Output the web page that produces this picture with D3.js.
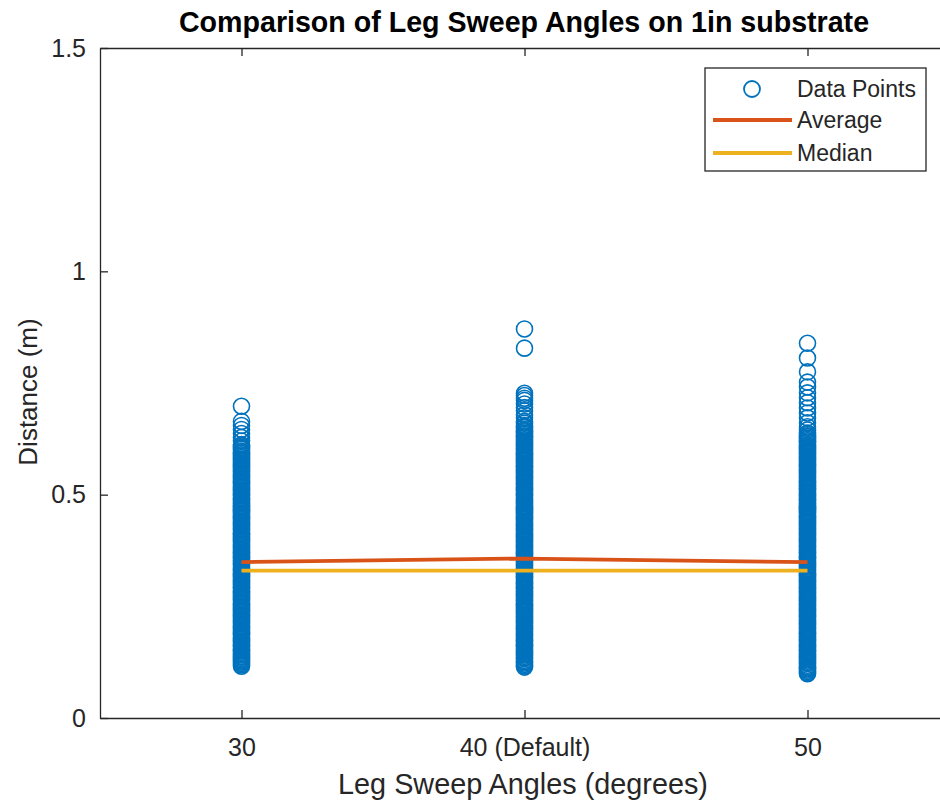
<!DOCTYPE html>
<html>
<head>
<meta charset="utf-8">
<script src="https://cdn.jsdelivr.net/npm/d3@7"></script>
<style>
  body { margin: 0; background: #fff; }
  text { font-family: "Liberation Sans", Arial, sans-serif; fill: #262626; }
</style>
</head>
<body>
<svg id="chart" width="940" height="801"></svg>
<script>
// --- Daten ---
const angles = [30, 40, 50];
const tickLabels = ['30', '40 (Default)', '50'];
const yTicks = [0, 0.5, 1, 1.5];

// Distanzen (m) je Winkel
const sweep30 = [0.698,0.664,0.655,0.646,0.637,0.628,0.620,
  0.612,0.609,0.606,0.604,0.601,0.597,0.594,0.592,0.589,0.586,0.583,0.580,0.578,0.575,0.571,0.568,0.566,0.563,0.560,0.557,0.554,0.552,0.549,0.545,0.542,0.540,0.537,0.534,0.531,0.528,0.526,0.523,0.519,0.516,0.514,0.511,0.508,0.505,0.502,0.500,0.497,0.493,0.490,0.488,0.485,0.482,0.479,0.476,0.474,0.471,0.467,0.464,0.462,0.459,0.456,0.453,0.450,0.448,0.445,0.441,0.438,0.436,0.433,0.430,0.427,0.424,0.422,0.419,0.415,0.412,0.410,0.407,0.404,0.401,0.398,0.396,0.393,0.389,0.386,0.384,0.381,0.378,0.375,0.372,0.370,0.367,0.363,0.360,0.358,0.355,0.352,0.349,0.346,0.344,0.341,0.337,0.334,0.332,0.329,0.326,0.323,0.320,0.318,0.315,0.311,0.308,0.306,0.303,0.300,0.297,0.294,0.292,0.289,0.285,0.282,0.280,0.277,0.274,0.271,0.268,0.266,0.263,0.259,0.256,0.254,0.251,0.248,0.245,0.242,0.240,0.237,0.233,0.230,0.228,0.225,0.222,0.219,0.216,0.214,0.211,0.207,0.204,0.202,0.199,0.196,0.193,0.190,0.188,0.185,0.181,0.178,0.176,0.173,0.170,0.167,0.164,0.162,0.159,0.155,0.152,0.150,0.147,0.144,0.141,0.138,0.136,0.133,0.130,0.128,0.125,0.122,0.119,0.116];

const sweep40 = [0.871,0.828,0.727,0.722,0.716,0.711,0.703,0.695,0.688,0.679,0.672,0.664,0.660,
  0.655,0.652,0.650,0.646,0.643,0.641,0.638,0.635,0.632,0.629,0.627,0.623,0.620,0.617,0.615,0.612,0.609,0.606,0.603,0.601,0.597,0.594,0.591,0.589,0.586,0.583,0.580,0.577,0.575,0.571,0.568,0.565,0.563,0.560,0.557,0.554,0.551,0.549,0.545,0.542,0.539,0.537,0.534,0.531,0.528,0.525,0.523,0.519,0.516,0.513,0.511,0.508,0.505,0.502,0.499,0.497,0.493,0.490,0.487,0.485,0.482,0.479,0.476,0.473,0.471,0.467,0.464,0.461,0.459,0.456,0.453,0.450,0.447,0.445,0.441,0.438,0.435,0.433,0.430,0.427,0.424,0.421,0.419,0.415,0.412,0.409,0.407,0.404,0.401,0.398,0.395,0.393,0.389,0.386,0.383,0.381,0.378,0.375,0.372,0.369,0.367,0.363,0.360,0.357,0.355,0.352,0.349,0.346,0.343,0.341,0.337,0.334,0.331,0.329,0.326,0.323,0.320,0.317,0.315,0.311,0.308,0.305,0.303,0.300,0.297,0.294,0.291,0.289,0.285,0.282,0.279,0.277,0.274,0.271,0.268,0.265,0.263,0.259,0.256,0.253,0.251,0.248,0.245,0.242,0.239,0.237,0.233,0.230,0.227,0.225,0.222,0.219,0.216,0.213,0.211,0.207,0.204,0.201,0.199,0.196,0.193,0.190,0.187,0.185,0.181,0.178,0.175,0.173,0.170,0.167,0.164,0.161,0.159,0.155,0.152,0.149,0.147,0.144,0.141,0.138,0.135,0.133,0.129,0.126,0.123,0.120,0.117,0.114];

const sweep50 = [0.839,0.806,0.775,0.752,0.741,0.728,0.717,0.706,0.694,0.683,0.672,0.661,0.652,0.645,
  0.638,0.635,0.632,0.630,0.627,0.624,0.621,0.618,0.616,0.612,0.609,0.606,0.604,0.601,0.598,0.595,0.592,0.590,0.586,0.583,0.580,0.578,0.575,0.572,0.569,0.566,0.564,0.560,0.557,0.554,0.552,0.549,0.546,0.543,0.540,0.538,0.534,0.531,0.528,0.526,0.523,0.520,0.517,0.514,0.512,0.508,0.505,0.502,0.500,0.497,0.494,0.491,0.488,0.486,0.482,0.479,0.476,0.474,0.471,0.468,0.465,0.462,0.460,0.456,0.453,0.450,0.448,0.445,0.442,0.439,0.436,0.434,0.430,0.427,0.424,0.422,0.419,0.416,0.413,0.410,0.408,0.404,0.401,0.398,0.396,0.393,0.390,0.387,0.384,0.382,0.378,0.375,0.372,0.370,0.367,0.364,0.361,0.358,0.356,0.352,0.349,0.346,0.344,0.341,0.338,0.335,0.332,0.330,0.326,0.323,0.320,0.318,0.315,0.312,0.309,0.306,0.304,0.300,0.297,0.294,0.292,0.289,0.286,0.283,0.280,0.278,0.274,0.271,0.268,0.266,0.263,0.260,0.257,0.254,0.252,0.248,0.245,0.242,0.240,0.237,0.234,0.231,0.228,0.226,0.222,0.219,0.216,0.214,0.211,0.208,0.205,0.202,0.200,0.196,0.193,0.190,0.188,0.185,0.182,0.179,0.176,0.174,0.170,0.167,0.164,0.162,0.159,0.156,0.153,0.150,0.148,0.144,0.141,0.138,0.136,0.133,0.130,0.127,0.124,0.122,0.118,0.115,0.112,0.110,0.107,0.104,0.101,0.099];

const averages = [0.349, 0.357, 0.349];
const medians = [0.330, 0.330, 0.330];

// --- Farben (MATLAB Standard) ---
const BLUE = '#0072BD';
const ORANGE = '#D95319';
const YELLOW = '#EDB120';
const AXIS = '#262626';

const svg = d3.select('#chart');

const x = d3.scaleLinear().domain([25, 55]).range([100, 949]);
const y = d3.scaleLinear().domain([0, 1.5]).range([718, 48]);

// Datenpunkte
const groups = [sweep30, sweep40, sweep50];
const points = [];
groups.forEach((vals, i) => vals.forEach(v => points.push({ a: angles[i], v: v })));

svg.append('g')
  .selectAll('circle')
  .data(points)
  .join('circle')
  .attr('cx', d => x(d.a))
  .attr('cy', d => y(d.v))
  .attr('r', 8)
  .attr('fill', 'none')
  .attr('stroke', BLUE)
  .attr('stroke-width', 1.6);

// Mittelwert- und Median-Linien
const line = d3.line().x((d, i) => x(angles[i])).y(d => y(d));
svg.append('path').datum(averages)
  .attr('d', line).attr('fill', 'none')
  .attr('stroke', ORANGE).attr('stroke-width', 3.8);
svg.append('path').datum(medians)
  .attr('d', line).attr('fill', 'none')
  .attr('stroke', YELLOW).attr('stroke-width', 3.8);

// --- Achsen ---
const xAxis = svg.append('g')
  .attr('transform', `translate(0,${y(0)})`)
  .call(d3.axisBottom(x).tickValues(angles)
    .tickFormat((d, i) => tickLabels[i])
    .tickSizeInner(-8).tickSizeOuter(0).tickPadding(20));

const topAxis = svg.append('g')
  .attr('transform', `translate(0,${y(1.5)})`)
  .call(d3.axisTop(x).tickValues(angles).tickFormat('')
    .tickSizeInner(-8).tickSizeOuter(0));

const yAxis = svg.append('g')
  .attr('transform', `translate(${x(25)},0)`)
  .call(d3.axisLeft(y).tickValues(yTicks).tickFormat(d3.format('~g'))
    .tickSizeInner(-8).tickSizeOuter(0).tickPadding(14));

[xAxis, topAxis, yAxis].forEach(g => {
  g.select('.domain').attr('stroke', AXIS).attr('stroke-width', 1.3);
  g.selectAll('.tick line').attr('stroke', AXIS).attr('stroke-width', 1.3);
  g.selectAll('.tick text')
    .attr('font-family', '"Liberation Sans", Arial, sans-serif')
    .attr('font-size', 25)
    .attr('fill', AXIS);
});

// --- Beschriftungen ---
svg.append('text')
  .attr('x', 524).attr('y', 32)
  .attr('text-anchor', 'middle')
  .attr('font-size', 28.6).attr('font-weight', 'bold')
  .style('fill', '#000')
  .text('Comparison of Leg Sweep Angles on 1in substrate');

svg.append('text')
  .attr('x', 523).attr('y', 794)
  .attr('text-anchor', 'middle')
  .attr('font-size', 28.8)
  .text('Leg Sweep Angles (degrees)');

svg.append('text')
  .attr('transform', 'translate(37,392) rotate(-90)')
  .attr('text-anchor', 'middle')
  .attr('font-size', 26)
  .text('Distance (m)');

// --- Legende ---
const legend = svg.append('g');
legend.append('rect')
  .attr('x', 705).attr('y', 68).attr('width', 221).attr('height', 103)
  .attr('fill', '#fff').attr('stroke', AXIS).attr('stroke-width', 1.3);

legend.append('circle')
  .attr('cx', 752).attr('cy', 89).attr('r', 8)
  .attr('fill', 'none').attr('stroke', BLUE).attr('stroke-width', 1.8);
legend.append('line')
  .attr('x1', 713).attr('x2', 792).attr('y1', 120).attr('y2', 120)
  .attr('stroke', ORANGE).attr('stroke-width', 3.8);
legend.append('line')
  .attr('x1', 713).attr('x2', 792).attr('y1', 153).attr('y2', 153)
  .attr('stroke', YELLOW).attr('stroke-width', 3.8);

const legendLabels = ['Data Points', 'Average', 'Median'];
legend.selectAll('text.lbl')
  .data(legendLabels)
  .join('text')
  .attr('class', 'lbl')
  .attr('x', 797)
  .attr('y', (d, i) => [89, 120, 153][i])
  .attr('dy', '0.35em')
  .attr('font-size', 23)
  .text(d => d);
</script>
</body>
</html>
